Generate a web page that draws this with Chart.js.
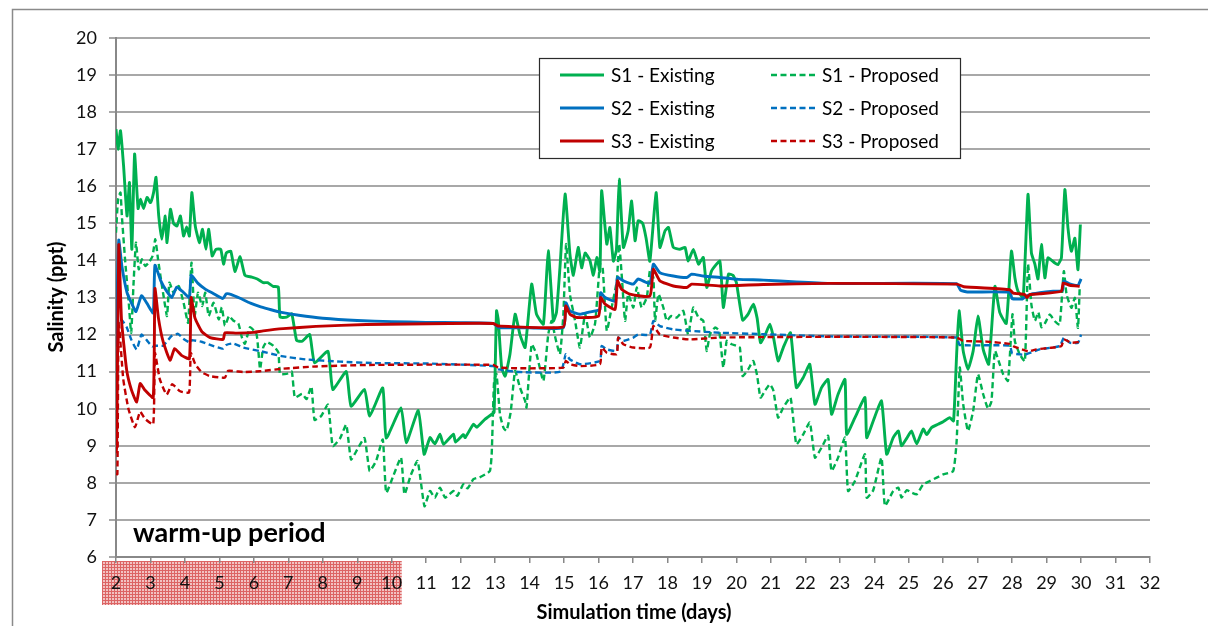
<!DOCTYPE html>
<html>
<head>
<meta charset="utf-8">
<script src="https://cdn.jsdelivr.net/npm/chart.js@4.4.1/dist/chart.umd.min.js"></script>
<style>
html,body{margin:0;padding:0;background:#fff;}
#wrap{width:1208px;height:626px;position:relative;}
</style>
</head>
<body>
<div id="wrap"><canvas id="c" width="1208" height="626"></canvas></div>
<script>
// ---------- DATA (days, salinity ppt) ----------
const s1ExistingT = [2.00,2.06,2.13,2.22,2.32,2.39,2.46,2.54,2.64,2.71,2.80,2.90,3.00,3.09,3.16,3.24,3.33,3.43,3.48,3.58,3.67,3.77,3.87,3.96,4.05,4.13,4.20,4.30,4.42,4.51,4.61,4.69,4.79,4.90,5.04,5.12,5.20,5.33,5.45,5.60,5.74,5.94,6.10,6.27,6.40,6.56,6.71,6.76,6.95,7.10,7.24,7.40,7.62,7.76,8.15,8.29,8.68,8.82,9.21,9.36,9.74,9.84,10.27,10.42,10.77,10.94,11.11,11.25,11.40,11.50,11.79,11.85,12.08,12.13,12.37,12.47,12.71,12.90,12.97,13.04,13.09,13.19,13.29,13.43,13.58,13.72,13.87,14.06,14.20,14.40,14.54,14.69,14.78,14.88,15.03,15.17,15.27,15.41,15.51,15.61,15.75,15.85,15.95,16.04,16.09,16.24,16.33,16.43,16.52,16.60,16.72,16.86,16.96,17.06,17.15,17.28,17.38,17.49,17.67,17.78,17.93,18.03,18.17,18.36,18.51,18.60,18.75,18.90,19.04,19.14,19.28,19.52,19.62,19.77,19.90,20.00,20.18,20.34,20.49,20.60,20.70,20.84,20.97,21.07,21.21,21.36,21.57,21.74,21.94,22.13,22.28,22.47,22.66,22.76,22.95,23.15,23.20,23.44,23.73,23.78,23.97,24.21,24.36,24.55,24.70,24.79,24.94,25.08,25.23,25.42,25.52,25.66,25.85,26.00,26.19,26.30,26.39,26.46,26.58,26.72,26.87,27.01,27.16,27.32,27.50,27.64,27.83,27.98,28.08,28.17,28.32,28.46,28.56,28.66,28.75,28.85,28.95,29.04,29.24,29.33,29.43,29.53,29.62,29.72,29.82,29.91,29.98];
const s1ExistingV = [17.54,17.0,17.5,16.55,15.2,16.1,14.3,16.87,15.4,15.65,15.4,15.7,15.56,15.83,16.24,15.2,14.57,15.2,14.48,15.38,15.0,14.93,15.2,14.66,14.9,14.66,15.83,14.93,14.48,14.84,14.3,14.84,14.12,14.3,14.3,13.9,14.2,14.25,13.7,14.1,13.6,13.55,13.5,13.4,13.4,13.3,13.28,12.47,12.47,12.56,11.84,11.82,12.0,11.24,11.55,10.52,11.0,10.07,10.52,9.8,10.56,9.21,10.02,9.08,9.95,8.77,9.22,9.05,9.31,9.04,9.31,9.1,9.3,9.22,9.58,9.5,9.72,9.85,9.9,12.64,12.4,11.1,10.88,11.47,12.55,12.0,11.65,13.36,12.55,12.28,14.26,12.37,12.6,13.8,15.79,14.17,13.6,14.35,13.8,14.2,14.0,13.6,14.08,13.7,15.88,14.44,14.89,13.98,14.3,16.19,14.35,14.8,15.6,14.53,15.07,15.0,14.6,13.98,15.83,14.35,14.8,14.89,14.35,14.3,14.35,13.98,14.3,13.9,14.08,13.27,13.72,13.98,12.73,13.63,13.6,13.4,12.39,12.55,12.82,12.45,11.78,12.0,12.28,11.95,11.29,11.65,12.05,10.57,10.84,11.2,10.12,10.57,10.79,9.85,10.39,10.79,9.31,9.76,10.3,9.22,9.67,10.21,8.77,9.22,9.4,9.0,9.2,9.4,9.05,9.45,9.3,9.49,9.58,9.65,9.76,9.67,11.47,12.64,11.56,11.06,11.56,12.5,11.6,11.2,13.3,12.6,12.3,14.25,13.53,13.17,13.0,15.78,14.2,13.9,13.5,14.43,13.53,14.07,13.93,13.89,14.07,15.91,14.88,14.25,14.6,13.75,14.97];

const s1ProposedT = [2.00,2.06,2.13,2.17,2.27,2.37,2.44,2.51,2.58,2.66,2.75,2.85,2.95,3.06,3.14,3.22,3.29,3.38,3.48,3.55,3.67,3.82,3.96,4.09,4.19,4.28,4.38,4.50,4.59,4.69,4.83,4.98,5.07,5.16,5.28,5.40,5.55,5.65,5.74,5.89,6.08,6.18,6.27,6.37,6.56,6.71,6.76,6.95,7.10,7.19,7.40,7.53,7.67,7.76,7.95,8.15,8.29,8.50,8.68,8.82,9.00,9.21,9.36,9.55,9.74,9.84,10.05,10.27,10.37,10.55,10.75,10.95,11.11,11.25,11.40,11.55,11.79,11.90,12.08,12.20,12.37,12.55,12.71,12.85,12.90,12.97,13.04,13.14,13.24,13.33,13.45,13.58,13.72,13.87,13.91,14.06,14.20,14.40,14.54,14.64,14.75,14.88,14.98,15.06,15.17,15.32,15.46,15.61,15.75,15.90,16.04,16.12,16.24,16.38,16.53,16.60,16.68,16.77,16.86,17.01,17.11,17.25,17.40,17.49,17.59,17.64,17.74,17.88,17.98,18.10,18.27,18.46,18.60,18.75,18.90,19.04,19.14,19.23,19.38,19.50,19.62,19.72,19.86,20.00,20.10,20.18,20.34,20.49,20.60,20.70,20.84,20.97,21.07,21.21,21.36,21.57,21.74,21.94,22.13,22.28,22.47,22.66,22.76,22.95,23.15,23.24,23.44,23.73,23.78,23.97,24.21,24.31,24.55,24.70,24.79,24.94,25.08,25.23,25.42,25.61,25.81,26.00,26.29,26.39,26.48,26.58,26.72,26.87,27.01,27.16,27.30,27.40,27.50,27.64,27.74,27.88,28.01,28.08,28.22,28.37,28.46,28.56,28.66,28.76,28.85,28.95,29.09,29.24,29.38,29.50,29.58,29.72,29.82,29.91,29.96];
const s1ProposedV = [14.75,15.65,15.83,15.2,13.94,12.86,12.05,13.4,14.48,13.76,14.03,13.85,13.94,14.12,14.57,14.03,13.58,13.04,12.5,13.4,13.13,13.31,12.86,12.32,13.94,12.5,13.13,12.77,13.13,12.5,12.86,12.41,12.74,12.24,12.5,12.38,12.3,11.93,11.75,12.2,12.0,11.07,11.65,11.8,11.7,11.52,10.94,10.94,11.0,10.3,10.4,10.26,10.6,9.7,9.8,10.11,8.99,9.2,9.57,8.63,8.9,9.21,8.32,8.6,9.17,7.73,8.2,8.68,7.69,8.2,8.59,7.37,7.78,7.6,7.87,7.6,7.78,7.65,7.96,7.85,8.1,8.15,8.23,8.32,8.77,10.75,10.93,9.85,9.49,9.4,9.9,11.02,10.57,10.21,10.03,11.74,11.47,10.75,12.0,12.37,11.9,11.47,12.55,14.44,13.09,12.37,11.65,12.55,11.92,12.3,13.9,13.8,12.1,12.73,13.45,14.44,13.5,12.37,13.09,12.73,13.27,12.73,13.0,13.72,13.54,12.37,13.09,12.73,12.37,12.5,12.46,12.64,12.0,12.73,12.46,12.37,11.56,12.0,12.19,12.1,11.11,11.83,11.74,11.7,11.65,10.88,11.06,11.29,10.9,10.3,10.5,10.66,10.5,9.76,10.03,10.3,9.04,9.31,9.63,8.68,8.95,9.27,8.32,8.68,9.22,7.78,8.05,8.77,7.6,7.8,8.68,7.38,7.78,7.87,7.6,7.8,7.74,7.69,7.96,8.05,8.14,8.23,8.32,9.13,11.11,10.12,9.4,9.94,10.93,10.39,10.0,10.2,11.56,11.2,10.93,10.75,12.55,11.82,11.47,11.28,13.9,12.8,12.37,12.6,12.2,12.3,12.54,12.36,12.27,13.71,13.08,12.72,12.99,12.18,13.26];

const s2ExistingT = [2.00,2.08,2.17,2.32,2.45,2.58,2.74,2.90,3.08,3.13,3.30,3.45,3.62,3.76,3.92,4.13,4.18,4.38,4.60,4.80,5.10,5.20,5.35,5.60,5.90,6.20,6.50,6.80,7.30,8.00,9.00,10.00,11.00,12.00,12.95,13.10,14.00,14.98,15.05,15.17,15.46,15.70,16.04,16.06,16.19,16.48,16.55,16.72,17.01,17.15,17.49,17.59,17.78,18.17,18.56,18.70,19.04,19.52,20.06,20.78,21.74,22.71,23.68,26.39,26.50,26.70,27.93,28.00,28.30,28.40,28.60,29.19,29.46,29.50,29.67,29.91,30.00];
const s2ExistingV = [11.7,14.55,13.85,13.13,12.85,12.62,13.05,12.84,12.58,13.87,13.45,13.2,13.0,13.28,13.17,13.0,13.6,13.38,13.22,13.12,12.97,13.1,13.08,12.98,12.85,12.75,12.67,12.6,12.52,12.44,12.38,12.35,12.33,12.32,12.3,12.19,12.18,12.19,12.86,12.64,12.55,12.6,12.68,13.13,13.0,12.9,13.54,13.45,13.36,13.5,13.38,13.9,13.67,13.58,13.54,13.63,13.58,13.54,13.49,13.47,13.42,13.38,13.38,13.37,13.2,13.15,13.14,12.97,12.96,13.03,13.1,13.17,13.19,13.44,13.37,13.33,13.5];

const s2ProposedT = [2.00,2.08,2.17,2.31,2.45,2.60,2.74,2.89,3.05,3.15,3.37,3.61,3.80,3.95,4.15,4.20,4.50,4.73,5.10,5.20,5.40,5.70,6.20,6.80,7.50,8.50,9.50,11.00,12.95,13.10,13.70,14.90,15.05,15.17,15.46,16.04,16.09,16.24,16.53,16.57,16.72,17.01,17.15,17.49,17.59,17.78,18.17,18.65,19.52,20.78,22.71,26.39,26.48,27.93,28.00,28.37,28.80,29.38,29.50,29.67,29.91,30.00];
const s2ProposedV = [10.9,12.4,12.39,12.2,11.85,11.6,12.0,11.85,11.68,11.7,11.7,11.96,12.02,11.89,11.78,11.85,11.8,11.72,11.62,11.72,11.76,11.65,11.55,11.42,11.33,11.27,11.23,11.22,11.15,11.06,10.99,11.0,11.47,11.33,11.2,11.29,11.69,11.6,11.56,11.92,11.83,11.92,12.0,12.0,12.37,12.23,12.14,12.1,12.05,12.01,11.95,11.92,11.72,11.7,11.5,11.46,11.6,11.69,11.91,11.78,11.78,12.0];

const s3ExistingT = [2.00,2.02,2.08,2.16,2.31,2.45,2.60,2.70,2.84,3.08,3.13,3.23,3.37,3.57,3.70,3.90,4.13,4.18,4.29,4.49,4.73,5.11,5.16,5.50,6.00,6.27,6.85,7.80,9.26,11.67,12.95,13.09,14.98,15.05,15.17,15.37,16.00,16.06,16.19,16.48,16.55,16.67,16.91,17.49,17.59,17.78,18.17,18.56,18.70,19.52,20.78,22.71,26.40,26.60,27.93,28.03,28.37,28.43,28.51,28.80,29.43,29.48,29.67,29.96];
const s3ExistingV = [8.8,8.96,14.42,12.39,11.04,10.5,10.18,10.68,10.5,10.3,13.24,12.45,11.8,11.31,11.62,11.44,11.35,13.0,12.45,12.08,11.92,11.87,12.05,12.04,12.06,12.1,12.16,12.22,12.27,12.3,12.3,12.23,12.21,12.77,12.55,12.46,12.5,13.0,12.82,12.68,13.45,13.22,13.09,13.04,13.76,13.45,13.31,13.27,13.36,13.31,13.35,13.38,13.36,13.29,13.21,13.12,13.08,13.0,13.08,13.1,13.17,13.39,13.33,13.3];

const s3ProposedT = [2.00,2.04,2.08,2.21,2.36,2.55,2.70,2.84,3.08,3.13,3.27,3.47,3.63,3.86,4.12,4.17,4.30,4.49,4.73,5.16,5.25,5.69,6.17,6.85,7.81,9.26,11.67,12.95,13.09,13.72,14.98,15.05,15.17,15.46,16.04,16.09,16.24,16.53,16.57,16.72,17.01,17.49,17.59,17.78,18.17,18.65,19.52,22.71,26.39,26.58,27.26,27.93,28.03,28.46,28.70,29.09,29.43,29.50,29.72,29.96];
const s3ProposedV = [8.25,8.23,12.3,10.8,10.0,9.5,9.92,9.73,9.58,11.5,10.8,10.38,10.66,10.47,10.44,11.5,11.2,10.98,10.88,10.84,11.02,10.99,11.01,11.08,11.14,11.18,11.19,11.18,11.11,11.09,11.11,11.29,11.2,11.15,11.2,11.65,11.51,11.47,11.92,11.74,11.65,11.65,12.23,12.0,11.92,11.87,11.92,11.94,11.92,11.83,11.81,11.75,11.69,11.55,11.6,11.64,11.69,11.87,11.78,11.8];

const seriesLabels = ['S1 - Existing','S1 - Proposed','S2 - Existing','S2 - Proposed','S3 - Existing','S3 - Proposed'];
const yTickValues = [6,7,8,9,10,11,12,13,14,15,16,17,18,19,20];
const xTickValues = [2,3,4,5,6,7,8,9,10,11,12,13,14,15,16,17,18,19,20,21,22,23,24,25,26,27,28,29,30,31,32];
const warmupEnd = 10;
const annotationText = 'warm-up period';
const yTitle = 'Salinity (ppt)';
const xTitle = 'Simulation time (days)';

// ---------- helpers ----------
function pts(t, v){ return t.map((x,i)=>({x:x, y:v[i]})); }
const GREEN = '#00B050', BLUE = '#0070C0', RED = '#C00000';
const FONT = 'Lato, "Liberation Sans", sans-serif';

function ds(label, t, v, color, dashed, order){
  return {
    label, data: pts(t, v), borderColor: color, backgroundColor: color,
    borderWidth: dashed ? 2.4 : 2.9, borderDash: dashed ? [6,3.5] : [],
    pointRadius: 0, fill: false, tension: 0.15, order: order,
    borderJoinStyle: 'round', borderCapStyle: 'butt'
  };
}

const datasets = [
  ds(seriesLabels[0], s1ExistingT, s1ExistingV, GREEN, false, 5),
  ds(seriesLabels[1], s1ProposedT, s1ProposedV, GREEN, true, 6),
  ds(seriesLabels[2], s2ExistingT, s2ExistingV, BLUE, false, 3),
  ds(seriesLabels[3], s2ProposedT, s2ProposedV, BLUE, true, 4),
  ds(seriesLabels[4], s3ExistingT, s3ExistingV, RED, false, 1),
  ds(seriesLabels[5], s3ProposedT, s3ProposedV, RED, true, 2)
];

// hatch pattern for warm-up label band
function makePattern(ctx){
  const c = document.createElement('canvas'); c.width = 3; c.height = 3;
  const g = c.getContext('2d');
  g.fillStyle = '#f2c2c2'; g.fillRect(0,0,3,3);
  g.fillStyle = '#dc6464'; g.fillRect(0,0,3,1); g.fillRect(0,0,1,3);
  return ctx.createPattern(c, 'repeat');
}

const decorPlugin = {
  id: 'decor',
  beforeDraw(chart){
    const ctx = chart.ctx; const xs = chart.scales.x; const ca = chart.chartArea;
    ctx.save();
    ctx.fillStyle = '#ffffff'; ctx.fillRect(0,0,chart.width,chart.height);
    // outer frame
    ctx.strokeStyle = '#8a8a8a'; ctx.lineWidth = 1.5;
    ctx.strokeRect(12.5, 9.5, 1400, 800);
    // warm-up hatched band under x labels
    const x0 = xs.getPixelForValue(xTickValues[0]) - 14;
    const x1 = xs.getPixelForValue(warmupEnd) + 10;
    ctx.fillStyle = makePattern(ctx);
    ctx.fillRect(x0, ca.bottom + 4, x1 - x0, 44);
    ctx.restore();
  },
  afterDraw(chart){
    const ctx = chart.ctx; const ca = chart.chartArea;
    ctx.save();
    // axis titles
    ctx.fillStyle = '#000';
    ctx.font = 'bold 20px ' + FONT;
    ctx.textAlign = 'center'; ctx.textBaseline = 'middle';
    ctx.fillText(xTitle, 634, 613);
    ctx.translate(57, 297);
    ctx.rotate(-Math.PI/2);
    ctx.fillText(yTitle, 0, 0);
    ctx.restore();
    // warm-up label
    ctx.save();
    ctx.fillStyle = '#000';
    ctx.font = 'bold 27px ' + FONT;
    ctx.textAlign = 'left'; ctx.textBaseline = 'alphabetic';
    ctx.fillText(annotationText, 133, 542);
    ctx.restore();
    // legend
    ctx.save();
    const lx = 539.5, ly = 58.5, lw = 421, lh = 100;
    ctx.fillStyle = '#fff'; ctx.fillRect(lx, ly, lw, lh);
    ctx.strokeStyle = '#2b2b2b'; ctx.lineWidth = 1.2; ctx.strokeRect(lx, ly, lw, lh);
    const rows = [75, 108, 141];
    const cols = [{l0:560,l1:604,tx:611},{l0:771,l1:818,tx:822}];
    ctx.font = '19px ' + FONT; ctx.textBaseline = 'middle'; ctx.textAlign = 'left';
    const order = [[0,1],[2,3],[4,5]];
    order.forEach((pair, r)=>{
      pair.forEach((di, c)=>{
        const d = chart.data.datasets[di];
        const col = cols[c];
        ctx.strokeStyle = d.borderColor; ctx.lineWidth = d.borderWidth;
        ctx.setLineDash(d.borderDash);
        ctx.beginPath(); ctx.moveTo(col.l0, rows[r]); ctx.lineTo(col.l1, rows[r]); ctx.stroke();
        ctx.setLineDash([]);
        ctx.fillStyle = '#000';
        ctx.fillText(d.label, col.tx, rows[r] + 1);
      });
    });
    ctx.restore();
  }
};

new Chart(document.getElementById('c'), {
  type: 'line',
  data: { datasets },
  options: {
    responsive: false, animation: false, devicePixelRatio: 1,
    layout: { padding: { left: 0, top: 38, right: 58, bottom: 0 } },
    plugins: { legend: { display: false }, tooltip: { enabled: false } },
    scales: {
      x: {
        type: 'linear', min: 2, max: 32,
        afterBuildTicks(s){ s.ticks = xTickValues.map(v=>({value:v})); },
        afterFit(s){ s.height = 69; },
        grid: { drawOnChartArea: false, drawTicks: true, tickLength: 6, color: '#888888', lineWidth: 1.5 },
        border: { display: true, color: '#888888', width: 2 },
        ticks: { font: { family: FONT, size: 18 }, color: '#111', padding: 9, maxRotation: 0, autoSkip: false }
      },
      y: {
        type: 'linear', min: 6, max: 20,
        afterBuildTicks(s){ s.ticks = yTickValues.map(v=>({value:v})); },
        afterFit(s){ s.width = 116; },
        grid: { color: '#a8a8a8', lineWidth: 2, drawTicks: true, tickLength: 7 },
        border: { display: true, color: '#888888', width: 2 },
        ticks: { font: { family: FONT, size: 18 }, color: '#111', padding: 12 }
      }
    }
  },
  plugins: [decorPlugin]
});
</script>
</body>
</html>
